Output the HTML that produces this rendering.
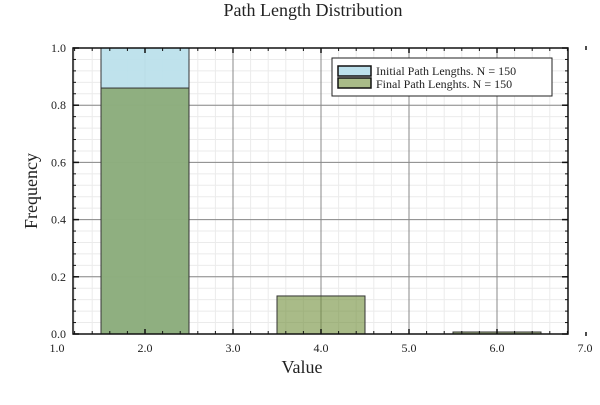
<!DOCTYPE html>
<html><head><meta charset="utf-8"><style>
body{margin:0;background:#fff}
svg text{font-family:"Liberation Serif",serif;fill:#222}
</style></head><body>
<svg id="c" width="600" height="400">
<text x="313" y="16" font-size="18" text-anchor="middle">Path Length Distribution</text>
<g id="grid"></g><g id="bars"></g><g id="axes"></g>
<text x="302" y="373" font-size="18" text-anchor="middle">Value</text>
<text transform="translate(37,191) rotate(-90)" font-size="18" text-anchor="middle">Frequency</text>
<g>
<rect x="332" y="58" width="220" height="38" fill="#fff" stroke="#222" stroke-width="1"/>
<rect x="338" y="66" width="33" height="10" fill="#bce0eb" stroke="#111" stroke-width="1.5"/>
<text x="376" y="75" font-size="12">Initial Path Lengths. N = 150</text>
<rect x="338" y="78" width="33" height="10" fill="#a9bb88" stroke="#111" stroke-width="1.5"/>
<text x="376" y="88" font-size="12">Final Path Lenghts. N = 150</text>
</g>
</svg>
<script>
const binStarts=[1.5,3.5,5.5];
const binWidth=1;
const initialFreq=[1.0,0,0];
const finalFreq=[0.86,0.133,0.007];
const xTicks=[1,2,3,4,5,6,7];
const xTickLabels=["1.0","2.0","3.0","4.0","5.0","6.0","7.0"];
const yTicks=[0,0.2,0.4,0.6,0.8,1.0];
const yTickLabels=["0.0","0.2","0.4","0.6","0.8","1.0"];
const NS="http://www.w3.org/2000/svg";
const X=v=>57+(v-1)*88, Y=v=>334-v*286;
const L=73,R=568,T=48,B=334;
function mk(p,t,a){const e=document.createElementNS(NS,t);for(const k in a)e.setAttribute(k,a[k]);p.appendChild(e);return e;}
const g=document.getElementById('grid'),b=document.getElementById('bars'),ax=document.getElementById('axes');
// minor grid
for(let v=1;v<=7.001;v+=0.2){const x=X(v);if(x>L&&x<R)mk(g,'line',{x1:x,x2:x,y1:T,y2:B,stroke:'#ebebeb','stroke-width':1});}
for(let v=0;v<=1.001;v+=0.04){const y=Y(v);mk(g,'line',{x1:L,x2:R,y1:y,y2:y,stroke:'#ebebeb','stroke-width':1});}
xTicks.forEach(v=>{const x=X(v);if(x>L&&x<R)mk(g,'line',{x1:x,x2:x,y1:T,y2:B,stroke:'#888','stroke-width':1});});
yTicks.forEach(v=>{const y=Y(v);mk(g,'line',{x1:L,x2:R,y1:y,y2:y,stroke:'#888','stroke-width':1});});
binStarts.forEach((s,i)=>{
 if(initialFreq[i]>0){const r=mk(b,'rect',{x:X(s),y:Y(initialFreq[i]),width:X(s+binWidth)-X(s),height:B-Y(initialFreq[i]),fill:'#bce0eb','fill-opacity':0.95,stroke:'#333','stroke-width':1});
 
 }
});
binStarts.forEach((s,i)=>{
 if(finalFreq[i]>0){const r=mk(b,'rect',{x:X(s),y:Y(finalFreq[i]),width:X(s+binWidth)-X(s),height:B-Y(finalFreq[i]),fill:'#708e39','fill-opacity':0.6,stroke:'#333','stroke-width':1});
 
 }
});
mk(ax,'rect',{x:L,y:T,width:R-L,height:B-T,fill:'none',stroke:'#111','stroke-width':1.5});
xTicks.forEach((v,i)=>{const x=X(v);
 const t=mk(ax,'text',{x:x,y:352,'font-size':12,'text-anchor':'middle'});t.textContent=xTickLabels[i];
 
 
 if(x>L&&x<R){mk(ax,'line',{x1:x,x2:x,y1:B,y2:B-5,stroke:'#111','stroke-width':1.5});mk(ax,'line',{x1:x,x2:x,y1:T,y2:T+5,stroke:'#111','stroke-width':1.5});}
});
for(let v=1;v<=7.001;v+=0.2){const x=X(v);if(x>L&&x<R){mk(ax,'line',{x1:x,x2:x,y1:B,y2:B-3,stroke:'#111'});mk(ax,'line',{x1:x,x2:x,y1:T,y2:T+3,stroke:'#111'});}}
yTicks.forEach((v,i)=>{const y=Y(v);
 const t=mk(ax,'text',{x:66,y:y+4,'font-size':12,'text-anchor':'end'});t.textContent=yTickLabels[i];
 
 
 mk(ax,'line',{x1:L,x2:L+6,y1:y,y2:y,stroke:'#111','stroke-width':1.5});mk(ax,'line',{x1:R,x2:R-6,y1:y,y2:y,stroke:'#111','stroke-width':1.5});
});
for(let v=0;v<=1.001;v+=0.04){const y=Y(v);mk(ax,'line',{x1:L,x2:L+3,y1:y,y2:y,stroke:'#111'});mk(ax,'line',{x1:R,x2:R-3,y1:y,y2:y,stroke:'#111'});}
[T,B].forEach(y=>mk(ax,'line',{x1:586,x2:586,y1:y-2,y2:y+2,stroke:'#111','stroke-width':1.5}));
</script>
</body></html>
